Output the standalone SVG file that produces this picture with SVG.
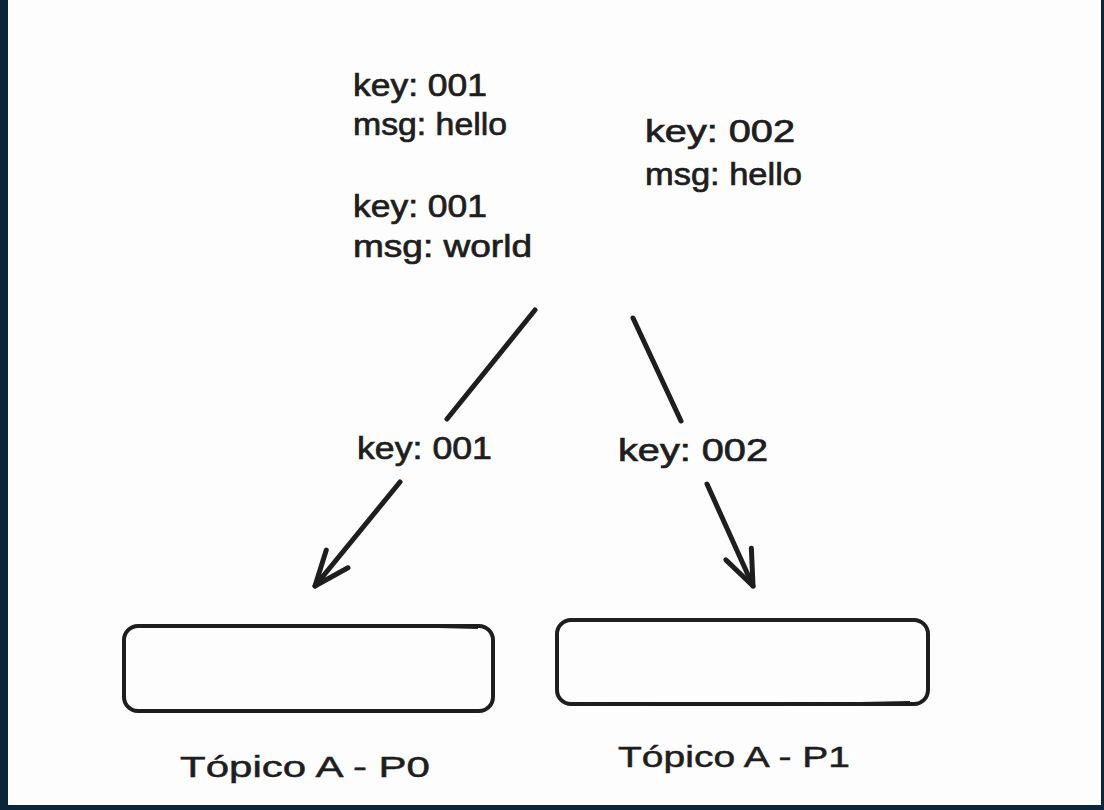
<svg xmlns="http://www.w3.org/2000/svg" width="1104" height="810" viewBox="0 0 1104 810">
  <defs>
    <style>
      .bg { fill: #fdfdfd; }
      .frame { fill: #0b2539; }
      .txt { font-family: "Liberation Sans", Arial, sans-serif; font-size: 31px; fill: #1e1e1e; stroke: #1e1e1e; stroke-width: 0.7; }
      .lbl { font-family: "Liberation Sans", Arial, sans-serif; font-size: 30px; fill: #1e1e1e; stroke: #1e1e1e; stroke-width: 0.5; }
      .box { fill: none; stroke: #1e1e1e; stroke-width: 4; }
      .edge { fill: none; stroke: #1e1e1e; stroke-width: 5; stroke-linecap: round; }
    </style>
    <marker id="arrow" markerUnits="userSpaceOnUse" viewBox="-40 -20 45 40" refX="0" refY="0" markerWidth="45" markerHeight="40" orient="auto" overflow="visible">
      <path d="M -35 -14 L 0 0 L -35 14" fill="none" stroke="#1e1e1e" stroke-width="5" stroke-linecap="round" stroke-linejoin="round"/>
    </marker>
  </defs>

  <rect class="bg" x="0" y="0" width="1104" height="810"/>
  <rect class="frame" x="0" y="0" width="8" height="810"/>
  <rect class="frame" x="1101" y="0" width="3" height="810"/>
  <rect class="frame" x="0" y="805" width="1104" height="5"/>

  <g id="msg-001-hello">
    <text class="txt" x="353" y="96" textLength="134" lengthAdjust="spacingAndGlyphs">key: 001</text>
    <text class="txt" x="353" y="135" textLength="154" lengthAdjust="spacingAndGlyphs">msg: hello</text>
  </g>
  <g id="msg-001-world">
    <text class="txt" x="353" y="217" textLength="134" lengthAdjust="spacingAndGlyphs">key: 001</text>
    <text class="txt" x="353" y="257" textLength="179" lengthAdjust="spacingAndGlyphs">msg: world</text>
  </g>
  <g id="msg-002-hello">
    <text class="txt" x="645" y="142" textLength="150" lengthAdjust="spacingAndGlyphs">key: 002</text>
    <text class="txt" x="645" y="185" textLength="157" lengthAdjust="spacingAndGlyphs">msg: hello</text>
  </g>

  <g id="connectors">
    <path class="edge" d="M 535 310 L 447 419"/>
    <path class="edge" d="M 400 482 L 315 586" marker-end="url(#arrow)"/>
    <text class="txt" x="357" y="459" textLength="135" lengthAdjust="spacingAndGlyphs">key: 001</text>
    <path class="edge" d="M 633 318 L 681 421"/>
    <path class="edge" d="M 707 484 L 753 586" marker-end="url(#arrow)"/>
    <text class="txt" x="618" y="461" textLength="150" lengthAdjust="spacingAndGlyphs">key: 002</text>
  </g>

  <g id="topic-a-p0">
    <rect class="box" x="124" y="626" width="369" height="85" rx="14"/>
    <path d="M 140 627 Q 300 623 478 628" fill="none" stroke="#1e1e1e" stroke-width="2"/>
    <text class="lbl" x="180" y="777" textLength="250" lengthAdjust="spacingAndGlyphs">Tópico A - P0</text>
  </g>
  <g id="topic-a-p1">
    <rect class="box" x="557" y="620" width="371" height="84" rx="14"/>
    <path d="M 575 703 Q 740 706 910 702" fill="none" stroke="#1e1e1e" stroke-width="2"/>
    <text class="lbl" x="618" y="767" textLength="232" lengthAdjust="spacingAndGlyphs">Tópico A - P1</text>
  </g>
</svg>
